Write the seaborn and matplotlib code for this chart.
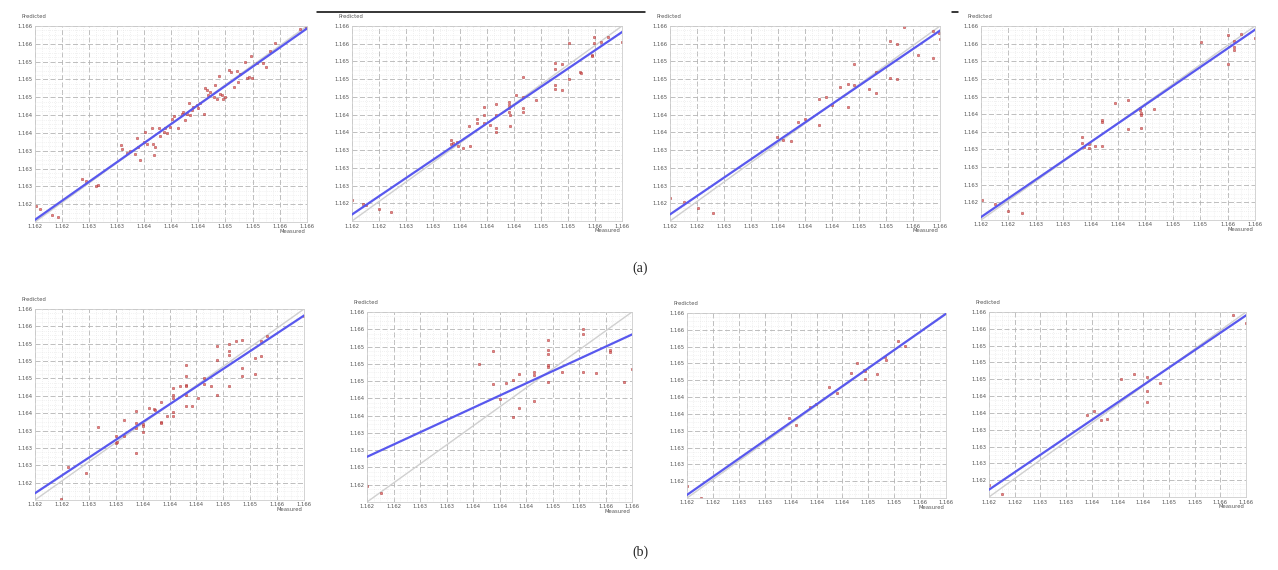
import numpy as np
import pandas as pd
import seaborn as sns
import matplotlib.pyplot as plt
from matplotlib.lines import Line2D
from matplotlib.ticker import AutoMinorLocator

# measured / predicted values
meas_a1 = [1.16201, 1.16207, 1.16225, 1.16234, 1.16269, 1.16275, 1.16290, 1.16292, 1.16327, 1.16328,
           1.16335, 1.16339, 1.16347, 1.16350, 1.16352, 1.16354, 1.16360, 1.16362, 1.16364, 1.16372,
           1.16374, 1.16375, 1.16377, 1.16382, 1.16384, 1.16389, 1.16391, 1.16394, 1.16399, 1.16401,
           1.16404, 1.16411, 1.16416, 1.16418, 1.16421, 1.16423, 1.16426, 1.16428, 1.16431, 1.16433,
           1.16438, 1.16440, 1.16443, 1.16448, 1.16450, 1.16453, 1.16455, 1.16458, 1.16463, 1.16465,
           1.16467, 1.16470, 1.16472, 1.16475, 1.16477, 1.16480, 1.16486, 1.16488, 1.16492, 1.16497,
           1.16499, 1.16502, 1.16509, 1.16512, 1.16514, 1.16517, 1.16519, 1.16526, 1.16536, 1.16539,
           1.16546, 1.16553, 1.16590, 1.16598]
pred_a1 = [1.16232, 1.16227, 1.16215, 1.16210, 1.16287, 1.16284, 1.16274, 1.16276, 1.16358, 1.16348,
           1.16340, 1.16345, 1.16338, 1.16372, 1.16353, 1.16327, 1.16364, 1.16384, 1.16360, 1.16391,
           1.16360, 1.16336, 1.16353, 1.16392, 1.16375, 1.16384, 1.16391, 1.16381, 1.16394, 1.16411,
           1.16416, 1.16392, 1.16421, 1.16425, 1.16408, 1.16421, 1.16442, 1.16418, 1.16428, 1.16435,
           1.16438, 1.16432, 1.16442, 1.16421, 1.16473, 1.16469, 1.16459, 1.16466, 1.16456, 1.16479,
           1.16452, 1.16498, 1.16462, 1.16459, 1.16452, 1.16456, 1.16510, 1.16507, 1.16475, 1.16509,
           1.16486, 1.16503, 1.16527, 1.16493, 1.16496, 1.16539, 1.16493, 1.16525, 1.16524, 1.16517,
           1.16548, 1.16565, 1.16593, 1.16595]

meas_a2 = [1.16200, 1.16217, 1.16220, 1.16240, 1.16258, 1.16346, 1.16347, 1.16350, 1.16356, 1.16357,
           1.16365, 1.16375, 1.16374, 1.16385, 1.16385, 1.16395, 1.16395, 1.16396, 1.16404, 1.16414,
           1.16414, 1.16414, 1.16414, 1.16432, 1.16432, 1.16432, 1.16432, 1.16434, 1.16434, 1.16443,
           1.16453, 1.16453, 1.16453, 1.16453, 1.16473, 1.16501, 1.16501, 1.16501, 1.16501, 1.16511,
           1.16511, 1.16521, 1.16521, 1.16538, 1.16539, 1.16556, 1.16556, 1.16559, 1.16559, 1.16569,
           1.16579, 1.16600]
pred_a2 = [1.16243, 1.16235, 1.16233, 1.16224, 1.16219, 1.16366, 1.16358, 1.16361, 1.16363, 1.16354,
           1.16349, 1.16354, 1.16395, 1.16409, 1.16402, 1.16433, 1.16417, 1.16400, 1.16397, 1.16441,
           1.16417, 1.16390, 1.16383, 1.16445, 1.16438, 1.16431, 1.16424, 1.16417, 1.16395, 1.16458,
           1.16495, 1.16454, 1.16431, 1.16424, 1.16448, 1.16525, 1.16512, 1.16479, 1.16470, 1.16522,
           1.16469, 1.16566, 1.16492, 1.16506, 1.16504, 1.16541, 1.16538, 1.16577, 1.16566, 1.16568,
           1.16577, 1.16568]

meas_a3 = [1.16200, 1.16220, 1.16242, 1.16263, 1.16358, 1.16368, 1.16379, 1.16390, 1.16400, 1.16421,
           1.16421, 1.16431, 1.16440, 1.16452, 1.16463, 1.16463, 1.16473, 1.16473, 1.16495, 1.16505,
           1.16505, 1.16526, 1.16526, 1.16536, 1.16536, 1.16547, 1.16568, 1.16589, 1.16589, 1.16599,
           1.16600]
pred_a3 = [1.16248, 1.16238, 1.16227, 1.16217, 1.16372, 1.16366, 1.16364, 1.16403, 1.16409, 1.16451,
           1.16397, 1.16454, 1.16438, 1.16474, 1.16434, 1.16482, 1.16522, 1.16478, 1.16471, 1.16505,
           1.16463, 1.16569, 1.16494, 1.16563, 1.16491, 1.16597, 1.16541, 1.16590, 1.16535, 1.16585,
           1.16574]

meas_a4 = [1.16201, 1.16221, 1.16240, 1.16260, 1.16347, 1.16348, 1.16350, 1.16357, 1.16358, 1.16367,
           1.16376, 1.16376, 1.16377, 1.16396, 1.16414, 1.16414, 1.16432, 1.16432, 1.16434, 1.16434,
           1.16434, 1.16453, 1.16521, 1.16560, 1.16560, 1.16569, 1.16569, 1.16569, 1.16580, 1.16600]
pred_a4 = [1.16241, 1.16233, 1.16219, 1.16215, 1.16372, 1.16359, 1.16351, 1.16356, 1.16349, 1.16353,
           1.16406, 1.16403, 1.16353, 1.16442, 1.16447, 1.16387, 1.16430, 1.16427, 1.16421, 1.16417,
           1.16389, 1.16429, 1.16568, 1.16581, 1.16522, 1.16570, 1.16557, 1.16550, 1.16584, 1.16575]

meas_b1 = [1.16239, 1.16249, 1.16276, 1.16294, 1.16321, 1.16321, 1.16322, 1.16332, 1.16332, 1.16350,
           1.16350, 1.16350, 1.16350, 1.16360, 1.16360, 1.16360, 1.16369, 1.16377, 1.16378, 1.16387,
           1.16387, 1.16387, 1.16397, 1.16405, 1.16405, 1.16405, 1.16405, 1.16405, 1.16416, 1.16424,
           1.16424, 1.16424, 1.16424, 1.16424, 1.16424, 1.16433, 1.16443, 1.16451, 1.16451, 1.16461,
           1.16471, 1.16471, 1.16471, 1.16489, 1.16489, 1.16489, 1.16489, 1.16499, 1.16508, 1.16508,
           1.16508, 1.16527, 1.16527, 1.16536, 1.16536, 1.16545, 1.16600]
pred_b1 = [1.16203, 1.16270, 1.16257, 1.16352, 1.16334, 1.16320, 1.16322, 1.16368, 1.16333, 1.16387,
           1.16362, 1.16350, 1.16298, 1.16359, 1.16356, 1.16343, 1.16392, 1.16390, 1.16389, 1.16406,
           1.16364, 1.16362, 1.16375, 1.16434, 1.16420, 1.16413, 1.16385, 1.16375, 1.16438, 1.16483,
           1.16460, 1.16441, 1.16438, 1.16420, 1.16397, 1.16397, 1.16413, 1.16455, 1.16443, 1.16438,
           1.16522, 1.16494, 1.16420, 1.16527, 1.16511, 1.16504, 1.16438, 1.16532, 1.16536, 1.16476,
           1.16459, 1.16497, 1.16464, 1.16532, 1.16501, 1.16543, 1.16586]

meas_b2 = [1.16200, 1.16221, 1.16369, 1.16390, 1.16390, 1.16410, 1.16420, 1.16420, 1.16430, 1.16430,
           1.16452, 1.16452, 1.16452, 1.16473, 1.16473, 1.16473, 1.16473, 1.16473, 1.16473, 1.16494,
           1.16526, 1.16526, 1.16526, 1.16546, 1.16567, 1.16567, 1.16588, 1.16600, 1.16401]
pred_b2 = [1.16233, 1.16219, 1.16491, 1.16518, 1.16449, 1.16451, 1.16457, 1.16378, 1.16470, 1.16397,
           1.16473, 1.16468, 1.16413, 1.16542, 1.16519, 1.16512, 1.16489, 1.16484, 1.16452, 1.16473,
           1.16564, 1.16554, 1.16474, 1.16471, 1.16520, 1.16515, 1.16452, 1.16480, 1.16416]

meas_b3 = [1.16200, 1.16222, 1.16358, 1.16369, 1.16390, 1.16399, 1.16420, 1.16431, 1.16453, 1.16463,
           1.16474, 1.16475, 1.16475, 1.16494, 1.16506, 1.16507, 1.16526, 1.16537, 1.16600]
pred_b3 = [1.16225, 1.16200, 1.16373, 1.16357, 1.16397, 1.16404, 1.16439, 1.16427, 1.16470, 1.16492,
           1.16477, 1.16474, 1.16457, 1.16469, 1.16505, 1.16499, 1.16539, 1.16528, 1.16600]

meas_b4 = [1.16200, 1.16220, 1.16353, 1.16363, 1.16374, 1.16384, 1.16405, 1.16425, 1.16446, 1.16446,
           1.16446, 1.16466, 1.16580, 1.16600]
pred_b4 = [1.16227, 1.16206, 1.16377, 1.16386, 1.16366, 1.16368, 1.16455, 1.16466, 1.16459, 1.16430,
           1.16406, 1.16446, 1.16593, 1.16576]

axis_lo, axis_hi = 1.162, 1.166
x_tick_labels = ["1.162", "1.162", "1.163", "1.163", "1.164", "1.164", "1.164", "1.165", "1.165", "1.166", "1.166"]
y_tick_labels = ["1.166", "1.166", "1.165", "1.165", "1.165", "1.164", "1.164", "1.163", "1.163", "1.163", "1.162"]

panels = [
    (meas_a1, pred_a1, (35, 307, 26, 222)),
    (meas_a2, pred_a2, (352, 622, 26, 221)),
    (meas_a3, pred_a3, (670, 940, 26, 221)),
    (meas_a4, pred_a4, (981, 1255, 26, 220)),
    (meas_b1, pred_b1, (35, 304, 309, 500)),
    (meas_b2, pred_b2, (367, 632, 312, 502)),
    (meas_b3, pred_b3, (687, 946, 313, 498)),
    (meas_b4, pred_b4, (989, 1246, 312, 497)),
]

W, H = 1278, 570
sns.set_style("white")
plt.rcParams['font.family'] = ['DejaVu Sans']

fig = plt.figure(figsize=(W / 100, H / 100), dpi=100)

for meas, pred, (l, r, t, b) in panels:
    ax = fig.add_axes([l / W, 1 - b / H, (r - l) / W, (b - t) / H])
    df = pd.DataFrame({"Measured": meas, "Predicted": pred})
    ax.axline((axis_lo, axis_lo), slope=1, color="#d0d0d0", lw=1.0, zorder=1)
    sns.regplot(data=df, x="Measured", y="Predicted", ax=ax, ci=None, truncate=False,
                marker="s",
                scatter_kws=dict(s=4, facecolor="#e86060", edgecolor="#a02828", linewidths=0.4, zorder=2),
                line_kws=dict(color="#5858ee", lw=1.6, zorder=3))
    ax.set_xlim(axis_lo, axis_hi)
    ax.set_ylim(axis_lo, axis_hi)
    ax.set_xticks(np.linspace(axis_lo, axis_hi, 11))
    ax.set_xticklabels(x_tick_labels)
    ystep = (axis_hi - axis_lo) / 11
    ax.set_yticks([axis_hi - k * ystep for k in range(11)])
    ax.set_yticklabels(y_tick_labels)
    ax.xaxis.set_minor_locator(AutoMinorLocator(4))
    ax.yaxis.set_minor_locator(AutoMinorLocator(4))
    ax.grid(which="major", color="#b4b4b4", ls=(0, (6, 3)), lw=0.6)
    ax.grid(which="minor", color="#e4e4e4", ls=(0, (1, 2)), lw=0.5)
    ax.set_axisbelow(True)
    ax.tick_params(which="both", length=0, labelsize=3.8, colors="#555555", pad=1.8)
    for s in ax.spines.values():
        s.set_color("#cccccc")
        s.set_linewidth(0.6)
    ax.set_xlabel("")
    ax.set_ylabel("")
    ax.annotate("Predicted", xy=(0, 1), xycoords="axes fraction", xytext=(-9.5, 6.5),
                textcoords="offset points", fontsize=3.8, color="#555555", va="center", ha="left")
    ax.annotate("Measured", xy=(1, 0), xycoords="axes fraction", xytext=(-1, -6.5),
                textcoords="offset points", fontsize=3.8, color="#555555", va="center", ha="right")

fig.text(640 / W, 1 - 268 / H, "(a)", ha="center", va="center", fontsize=10, family="Liberation Serif")
fig.text(640 / W, 1 - 552 / H, "(b)", ha="center", va="center", fontsize=10, family="Liberation Serif")

# stray rule lines along the top edge
fig.add_artist(Line2D([317 / W, 645 / W], [1 - 12 / H, 1 - 12 / H], color="black", lw=1.1))
fig.add_artist(Line2D([952 / W, 958 / W], [1 - 12 / H, 1 - 12 / H], color="black", lw=1.1))

fig.savefig("out.png", dpi=100)
